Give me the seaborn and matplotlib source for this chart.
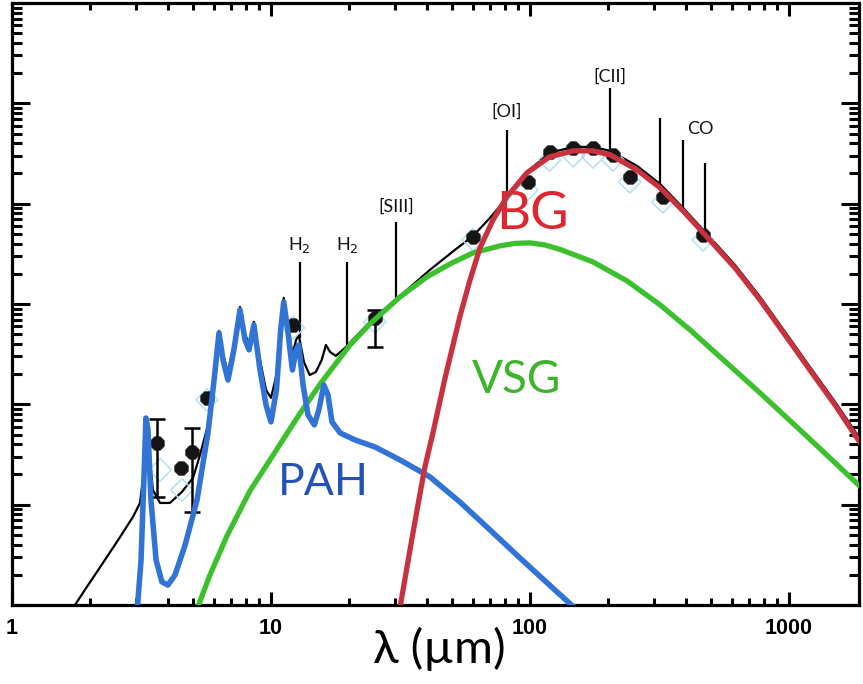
import numpy as np
import pandas as pd
import matplotlib
matplotlib.use("Agg")
import matplotlib.pyplot as plt
import seaborn as sns
from matplotlib.ticker import LogLocator, NullFormatter, FixedLocator, FixedFormatter

# Wavelength in micron, nu*F_nu in arbitrary units

# PAH component (aromatic bands + continuum)
pah_wave = [3.04, 3.15, 3.23, 3.29, 3.35, 3.44, 3.60, 3.79, 4.00, 4.26, 4.66, 5.18,
            5.71, 6.03, 6.30, 6.53, 6.82, 7.19, 7.59, 7.94, 8.23, 8.59, 9.07, 9.57,
            10.0, 10.5, 10.9, 11.2, 11.6, 12.1, 12.5, 12.8, 13.3, 13.9, 14.7, 15.3,
            16.0, 16.6, 17.2, 18.5, 21.1, 25.2, 31.5, 41.1, 53.7, 70.1, 91.5, 119, 152]
pah_flux = [0.85, 2.81, 17.6, 73.1, 55.6, 11.1, 2.81, 1.70, 1.58, 1.99, 3.96, 11.1,
            51.9, 175, 515, 277, 175, 349, 873, 439, 349, 619, 220, 98.6,
            66.8, 139, 552, 1050, 552, 220, 349, 391, 156, 78.4, 62.3, 87.9,
            156, 124, 66.8, 51.9, 44.2, 37.6, 27.9, 18.9, 10.6, 5.60, 2.94, 1.58, 0.89]

# Very small grains
vsg_wave = [5.13, 5.81, 6.76, 8.29, 9.91, 11.5, 12.9, 15.5, 20.2, 24.1, 31.5, 40.0,
            49.1, 60.3, 76.6, 87.5, 100, 114, 131, 175, 237, 318, 415, 542, 773,
            1103, 1440, 1930]
vsg_flux = [0.852, 1.99, 4.88, 13.7, 27.9, 50.7, 80.2, 160, 391, 633, 1177, 1862,
            2510, 3232, 3796, 4020, 4067, 3882, 3494, 2628, 1699, 980, 552, 297, 130,
            55.6, 29.2, 14.3]

# Big grains
bg_wave = [30.9, 32.6, 34.4, 37.0, 39.3, 42.2, 47.0, 53.7, 58.7, 64.1, 72.0, 81.5,
           97.3, 119, 147, 175, 204, 259, 318, 390, 482, 619, 773, 966, 1205, 1506, 1930]
bg_flux = [0.71, 1.58, 3.53, 10.2, 23.8, 51.9, 183, 761, 1739, 3625, 6894, 11700,
           20300, 29300, 33600, 33600, 30700, 21700, 14400, 8480, 4670, 2290, 1100,
           492, 220, 98.6, 37.6]

# Total model
tot_wave = [1.70, 1.91, 2.19, 2.57, 2.93, 3.12, 3.20, 3.29, 3.38, 3.50, 3.73, 4.07,
            4.53, 5.00, 5.32, 5.71, 6.03, 6.30, 6.53, 6.82, 7.19, 7.59, 7.94, 8.23,
            8.59, 9.07, 9.57, 10.0, 10.5, 10.9, 11.2, 11.6, 12.1, 12.5, 12.8, 13.4,
            14.1, 14.9, 15.7, 16.3, 16.9, 17.8, 19.3, 24.1, 31.5, 41.1, 51.3, 60.3,
            70.1, 81.5, 97.3, 119, 147, 175, 204, 259, 318, 390, 482, 619, 773, 966,
            1205, 1506, 1930]
tot_flux = [0.89, 1.41, 2.39, 4.45, 7.54, 10.4, 17.6, 73.1, 35.1, 14.0, 10.4, 10.4,
            13.4, 18.5, 31.3, 62.3, 183, 540, 311, 210, 391, 935, 492, 409,
            663, 277, 139, 116, 196, 619, 1150, 649, 311, 439, 492, 265,
            196, 210, 277, 391, 333, 304, 365, 663, 1205, 2190, 3460, 4770,
            7220, 11400, 20700, 32100, 36800, 36800, 33600, 23800, 15700, 9080, 5000,
            2450, 1180, 527, 236, 106, 41.2]

# Observed photometry
obs_wave = [3.63, 4.49, 4.95, 5.66, 12.2, 25.2, 60.3, 98.3, 119, 147, 175, 209, 243, 326, 466]
obs_flux = [41.2, 23.2, 33.5, 116, 619, 727, 4670, 16500, 32900, 36000, 36000, 30700,
            18500, 11700, 4890]
# error bars (lower, upper) for the points that carry them
err_wave = [3.63, 4.95, 25.2]
err_flux = [41.2, 33.5, 727]
err_low = [11.9, 8.45, 373]
err_high = [71.4, 58.2, 873]

# Model photometry in the same bands
band_wave = [3.73, 4.53, 5.66, 12.2, 25.2, 60.3, 97.3, 119, 147, 175, 209, 243, 326, 466]
band_flux = [22.2, 14.0, 111, 578, 663, 4360, 13700, 27300, 30000, 29300, 27300,
             16500, 10400, 4360]

# Gas lines
line_names = ["H$_2$", "H$_2$", "[SIII]", "[OI]", "[CII]", "", "CO", ""]
line_wave = [12.9, 19.7, 30.4, 81.5, 204, 318, 390, 474]
line_base = [459, 391, 1150, 10900, 32900, 14700, 8670, 4890]
line_top = [2630, 2630, 6590, 54400, 143000, 71600, 43300, 25500]
label_wave = [12.9, 19.7, 30.4, 81.5, 204, 318, 453, 474]
label_flux = [3090, 3090, 7730, 68500, 153000, 0, 46400, 0]

# Component names
comp_names = ["PAH", "VSG", "BG"]
comp_wave = [15.9, 89.1, 101.8]
comp_flux = [16.5, 175, 7730]

blue = "#3274D6"
green = "#3DC02E"
red = "#C8323F"

sns.set_theme(style="ticks")
plt.rcParams["font.family"] = ["Lato", "DejaVu Sans"]

fig = plt.figure(figsize=(8.63, 6.84), dpi=100)
ax = fig.add_axes([12 / 863, 79 / 684, 847 / 863, 602 / 684])
ax.set_xscale("log")
ax.set_yscale("log")

tot = pd.DataFrame({"wave": tot_wave, "flux": tot_flux})
pah = pd.DataFrame({"wave": pah_wave, "flux": pah_flux})
vsg = pd.DataFrame({"wave": vsg_wave, "flux": vsg_flux})
bg = pd.DataFrame({"wave": bg_wave, "flux": bg_flux})

sns.lineplot(data=tot, x="wave", y="flux", ax=ax, color="black", lw=1.6,
             estimator=None, sort=False, zorder=2)

# gas lines
ax.vlines(line_wave, line_base, line_top, color="black", lw=1.6, zorder=2)
for name, xw, yf in zip(line_names, label_wave, label_flux):
    if name:
        ax.text(xw, yf, name, ha="center", va="bottom", fontsize=13, color="#111111")

# model band fluxes and observations
sns.scatterplot(x=band_wave, y=band_flux, ax=ax, marker="D", s=130,
                facecolor="none", edgecolor="#B3E0F2", linewidth=1.1, zorder=3)
ax.errorbar(err_wave, err_flux,
            yerr=[np.array(err_flux) - np.array(err_low), np.array(err_high) - np.array(err_flux)],
            fmt="none", ecolor="black", elinewidth=1.8, capsize=6, capthick=1.8, zorder=3)
sns.scatterplot(x=obs_wave, y=obs_flux, ax=ax, marker="8", s=110, color="#151515",
                edgecolor="#151515", linewidth=0.5, zorder=4)

sns.lineplot(data=vsg, x="wave", y="flux", ax=ax, color=green, lw=3.8,
             estimator=None, sort=False, zorder=5)
sns.lineplot(data=pah, x="wave", y="flux", ax=ax, color=blue, lw=4.0,
             estimator=None, sort=False, zorder=6)
sns.lineplot(data=bg, x="wave", y="flux", ax=ax, color=red, lw=3.8,
             estimator=None, sort=False, zorder=6)
for ln in ax.get_lines():
    ln.set_solid_joinstyle("round")
    ln.set_solid_capstyle("round")

comp_colors = ["#2452B8", "#3DB52B", "#E0262E"]
comp_sizes = [32, 33, 38]
for name, xw, yf, c, fs in zip(comp_names, comp_wave, comp_flux, comp_colors, comp_sizes):
    ax.text(xw, yf, name, ha="center", va="center", fontsize=fs, color=c)

ax.set_xlim(1, 1864)
ax.set_ylim(1, 1.0e6)

# axes frame and ticks
for sp in ax.spines.values():
    sp.set_visible(True)
    sp.set_linewidth(2.3)
    sp.set_color("black")

ax.xaxis.set_major_locator(FixedLocator([1, 10, 100, 1000]))
ax.xaxis.set_major_formatter(FixedFormatter(["1", "10", "100", "1000"]))
ax.xaxis.set_minor_locator(LogLocator(base=10, subs=np.arange(2, 10), numticks=20))
ax.xaxis.set_minor_formatter(NullFormatter())
ax.yaxis.set_major_locator(LogLocator(base=10, numticks=20))
ax.yaxis.set_minor_locator(LogLocator(base=10, subs=np.arange(2, 10), numticks=20))
ax.yaxis.set_major_formatter(NullFormatter())
ax.yaxis.set_minor_formatter(NullFormatter())

ax.tick_params(which="both", direction="in", top=True, right=True, width=2.2,
               color="black")
ax.tick_params(axis="x", which="major", length=9.5, pad=9)
ax.tick_params(axis="x", which="minor", length=5)
ax.tick_params(axis="y", which="major", length=13)
ax.tick_params(axis="y", which="minor", length=7.5)
for lab in ax.get_xticklabels():
    lab.set_fontfamily(["Liberation Sans", "DejaVu Sans"])
    lab.set_fontweight("bold")
    lab.set_fontsize(15.5)
    lab.set_color("black")

ax.set_ylabel("")
ax.set_xlabel("λ (µm)", fontsize=34, color="black")
ax.xaxis.set_label_coords(0.505, -0.037)
ax.grid(False)

fig.savefig("out.png", dpi=100, facecolor="white")
